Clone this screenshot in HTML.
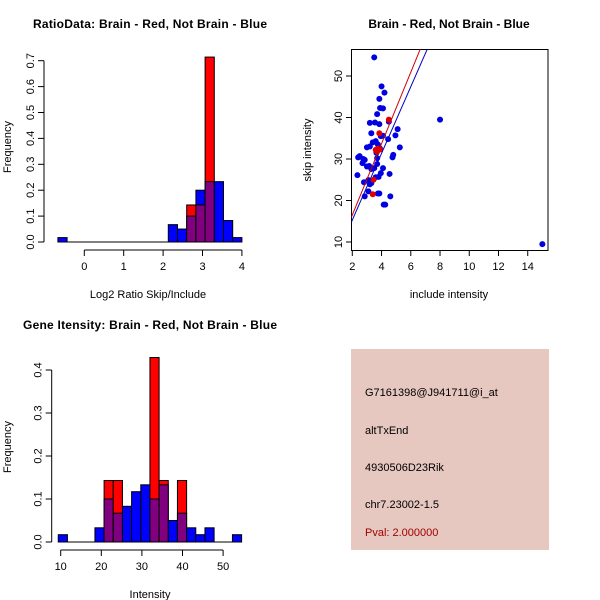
<!DOCTYPE html>
<html><head><meta charset="utf-8"><style>
body{margin:0;background:#fff}
svg{display:block;font-family:"Liberation Sans",sans-serif}
</style></head><body>
<svg id="c" width="600" height="600" xmlns="http://www.w3.org/2000/svg">
<rect width="600" height="600" fill="#fff"/>
<text x="150" y="28" font-size="12" font-weight="bold" text-anchor="middle" textLength="234">RatioData: Brain - Red, Not Brain - Blue</text>
<text x="449" y="28" font-size="12" font-weight="bold" text-anchor="middle">Brain - Red, Not Brain - Blue</text>
<text x="150" y="329" font-size="12" font-weight="bold" text-anchor="middle" textLength="254">Gene Itensity: Brain - Red, Not Brain - Blue</text>
<text x="148" y="298" font-size="11" text-anchor="middle">Log2 Ratio Skip/Include</text>
<text transform="translate(11,147) rotate(-90)" font-size="11" text-anchor="middle">Frequency</text>
<text x="449" y="298" font-size="11" text-anchor="middle">include intensity</text>
<text transform="translate(311,150) rotate(-90)" font-size="11" text-anchor="middle">skip intensity</text>
<text x="150" y="598" font-size="11" text-anchor="middle">Intensity</text>
<text transform="translate(11,447) rotate(-90)" font-size="11" text-anchor="middle">Frequency</text>
<rect x="351" y="349" width="198" height="201" fill="#e6c8c0"/>
<g font-size="11">
<text x="365" y="396">G7161398@J941711@i_at</text>
<text x="365" y="434">altTxEnd</text>
<text x="365" y="471">4930506D23Rik</text>
<text x="365" y="508">chr7.23002-1.5</text>
<text x="365" y="536" fill="#a00000">Pval: 2.000000</text>
</g>
<g id="g1"></g><g id="g2"></g><g id="g3"></g>
</svg>
<script>
// Ratio histogram data (20 bins)
const ratioStart = -0.67;
const ratioBinWidth = 0.2335;
const ratioBlue = [0.017,0,0,0,0,0,0,0,0,0,0,0,0.067,0.05,0.1,0.2,0.233,0.233,0.083,0.017];
const ratioRed  = [0,0,0,0,0,0,0,0,0,0,0,0,0,0,0.143,0.143,0.714,0,0,0];
const ratioXTicks = [0,1,2,3,4];
const ratioYTicks = ["0.0","0.1","0.2","0.3","0.4","0.5","0.6","0.7"];
// Intensity histogram data (20 bins)
const intStart = 9.4;
const intBinWidth = 2.258;
const intBlue = [0.017,0,0,0,0.033,0.1,0.067,0.083,0.117,0.133,0.1,0.133,0.05,0.067,0.033,0.017,0.033,0,0,0.017];
const intRed  = [0,0,0,0,0,0.143,0.143,0,0,0,0.429,0.143,0,0.143,0,0,0,0,0,0];
const intXTicks = [10,20,30,40,50];
const intYTicks = ["0.0","0.1","0.2","0.3","0.4"];
// Scatter data
const blueInclude = [3.5,4.0,4.2,3.85,3.7,3.9,4.1,3.2,3.55,3.85,4.5,3.3,5.1,4.95,4.45,3.4,3.6,3.75,3.95,4.1,5.25,3.0,3.2,4.8,4.75,2.4,2.5,2.75,2.85,2.7,3.7,3.0,3.15,3.3,3.5,4.1,3.7,3.8,3.6,3.95,4.55,2.35,2.8,3.1,3.2,3.3,3.1,3.75,3.85,2.85,4.6,4.15,4.25,8,15,3.9,3.65];
const blueSkip = [54.5,47.5,46,44.5,40.8,42.3,42.2,38.7,38.8,38.4,39,36.2,37.2,35.7,34.8,34,34.3,33.5,35.5,35.6,32.8,32.8,33,31,30.4,30.4,30.7,30,29.8,29,30.2,28.2,28.3,27.6,27.8,27.8,28.8,25.7,25.6,26.6,26.4,26.1,24.4,24.9,23.9,24.2,22.2,21.7,21.7,21,21,19,19,39.5,9.5,32.5,31.5];
const redInclude = [4.5,3.85,3.6,3.75,3.9,3.7,3.45,3.4];
const redSkip = [39.5,36.2,32.2,32.5,32.3,31.8,25,21.5];
const fitLines = [{slope:8.6,intercept:-0.7,color:"#d00000"},{slope:8.03,intercept:-0.76,color:"#0000c0"}];
const scXTicks = [2,4,6,8,10,12,14];
const scYTicks = [10,20,30,40,50];

const NS="http://www.w3.org/2000/svg";
function mk(parent,tag,attrs){const e=document.createElementNS(NS,tag);for(const k in attrs)e.setAttribute(k,attrs[k]);parent.appendChild(e);return e;}

function hist(g,start,bw,blue,red,sx,sy,baseFrom,baseTo,xt,yt,yAxisX,xAxisY,name){
  const bl=mk(g,'line',{x1:sx(baseFrom),x2:sx(baseTo),y1:sy(0),y2:sy(0),stroke:'#000'});
  
  
  for(let i=0;i<blue.length;i++){
    const x0=sx(start+i*bw), x1=sx(start+(i+1)*bw), b=blue[i], r=red[i];
    const m=Math.min(b,r), top=Math.max(b,r);
    if(top<=0) continue;
    const hi=mk(g,'rect',{x:x0,y:sy(top),width:x1-x0,height:sy(0)-sy(top),fill:r>b?'#ff0000':'#0000ff',stroke:'#000','stroke-width':1});
    
    
    if(m>0){
      const p=mk(g,'rect',{x:x0,y:sy(m),width:x1-x0,height:sy(0)-sy(m),fill:'#800080',stroke:'#000','stroke-width':1});
      
      
    }
  }
  mk(g,'line',{x1:sx(xt[0]),x2:sx(xt[xt.length-1]),y1:xAxisY,y2:xAxisY,stroke:'#000'});
  xt.forEach(v=>{
    mk(g,'line',{x1:sx(v),x2:sx(v),y1:xAxisY,y2:xAxisY+6,stroke:'#000'});
    const t=mk(g,'text',{x:sx(v),y:xAxisY+20,'font-size':11,'text-anchor':'middle'});t.textContent=v;
    
    
  });
  mk(g,'line',{x1:yAxisX,x2:yAxisX,y1:sy(0),y2:sy(parseFloat(yt[yt.length-1])),stroke:'#000'});
  yt.forEach(s=>{
    const v=parseFloat(s),y=sy(v);
    mk(g,'line',{x1:yAxisX-6,x2:yAxisX,y1:y,y2:y,stroke:'#000'});
    const t=mk(g,'text',{transform:`translate(${yAxisX-10},${y}) rotate(-90)`,'font-size':11,'text-anchor':'middle'});t.textContent=s;
    
    
  });
}
const sx1=v=>84.3+(v)*39.4, sy1=v=>242-v*259;
hist(document.getElementById('g1'),ratioStart,ratioBinWidth,ratioBlue,ratioRed,sx1,sy1,ratioStart,4.0,ratioXTicks,ratioYTicks,44,250,'ratio');
const sx3=v=>60.7+(v-10)*4.06, sy3=v=>542-v*430;
hist(document.getElementById('g3'),intStart,intBinWidth,intBlue,intRed,sx3,sy3,intStart,intStart+20*intBinWidth,intXTicks,intYTicks,51.7,550,'intensity');

const g2=document.getElementById('g2');
const sx2=v=>352.3+(v-2)*14.62, sy2=v=>242-(v-10)*4.15;
const box=mk(g2,'rect',{x:351.5,y:49.5,width:196.5,height:201,fill:'none',stroke:'#000'});


const cp=mk(g2,'clipPath',{id:'cp'});mk(cp,'rect',{x:351.5,y:49.5,width:196.5,height:201});
blueInclude.forEach((v,i)=>{
  const c=mk(g2,'circle',{cx:sx2(v),cy:sy2(blueSkip[i]),r:3,fill:'#0000e0'});
  
  
});
redInclude.forEach((v,i)=>{
  const c=mk(g2,'circle',{cx:sx2(v),cy:sy2(redSkip[i]),r:3,fill:'#e00000'});
  
  
});
fitLines.forEach((f,i)=>{
  const l=mk(g2,'line',{x1:sx2(1.9),y1:sy2(f.slope*1.9+f.intercept),x2:sx2(9),y2:sy2(f.slope*9+f.intercept),stroke:f.color,'clip-path':'url(#cp)'});
  
  
});
scXTicks.forEach(v=>{
  mk(g2,'line',{x1:sx2(v),x2:sx2(v),y1:250.5,y2:256,stroke:'#000'});
  const t=mk(g2,'text',{x:sx2(v),y:270,'font-size':11,'text-anchor':'middle'});t.textContent=v;
  
  
});
scYTicks.forEach(v=>{
  mk(g2,'line',{x1:346,x2:351.5,y1:sy2(v),y2:sy2(v),stroke:'#000'});
  const t=mk(g2,'text',{transform:`translate(342,${sy2(v)}) rotate(-90)`,'font-size':11,'text-anchor':'middle'});t.textContent=v;
  
  
});
</script>
</body></html>
